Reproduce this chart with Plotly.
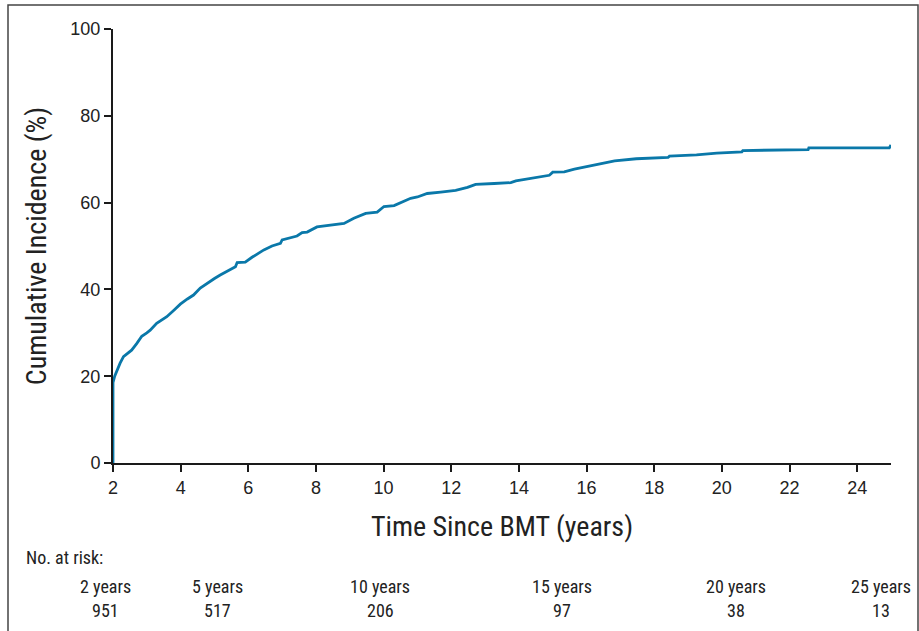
import plotly.graph_objects as go

# Cumulative incidence curve
time_years = [2.0, 2.0, 2.05, 2.1, 2.21, 2.31, 2.45, 2.55, 2.7, 2.85, 3.0, 3.1, 3.29, 3.45, 3.59,
              3.8, 3.99, 4.2, 4.38, 4.58, 4.78, 5.0, 5.17, 5.3, 5.47, 5.62, 5.67, 5.91, 6.11, 6.3,
              6.46, 6.70, 6.95, 7.0, 7.2, 7.44, 7.59, 7.74, 8.03, 8.4, 8.83, 9.12, 9.47, 9.81,
              10.01, 10.31, 10.50, 10.80, 11.0, 11.29, 11.69, 12.13, 12.48, 12.72, 13.27, 13.76,
              13.91, 14.26, 14.75, 14.9, 15.0, 15.34, 15.64, 16.03, 16.43, 16.83, 17.47, 18.41,
              18.45, 19.25, 19.85, 20.10, 20.59, 20.62, 21.95, 22.55, 22.57, 24.95, 25.0]
incidence_pct = [0, 18.5, 20.0, 21.0, 23.0, 24.5, 25.3, 26.0, 27.5, 29.2, 30.0, 30.6, 32.2, 33.0, 33.7,
                 35.2, 36.6, 37.8, 38.7, 40.3, 41.4, 42.5, 43.3, 43.9, 44.6, 45.2, 46.2, 46.3, 47.4, 48.3,
                 49.1, 50.0, 50.6, 51.4, 51.8, 52.3, 53.1, 53.2, 54.4, 54.8, 55.2, 56.4, 57.5, 57.8,
                 59.1, 59.3, 60.0, 61.0, 61.3, 62.1, 62.4, 62.8, 63.5, 64.2, 64.4, 64.6,
                 65.0, 65.4, 66.1, 66.3, 67.0, 67.1, 67.7, 68.3, 69.0, 69.6, 70.1, 70.4,
                 70.7, 71.0, 71.4, 71.5, 71.7, 72.0, 72.1, 72.2, 72.6, 72.6, 73.3]

x_ticks = [2, 4, 6, 8, 10, 12, 14, 16, 18, 20, 22, 24]
y_ticks = [0, 20, 40, 60, 80, 100]

# Number at risk table
risk_labels = ["2 years", "5 years", "10 years", "15 years", "20 years", "25 years"]
risk_counts = [951, 517, 206, 97, 38, 13]
risk_label_px = [105, 217, 380, 562, 736, 881]  # horizontal centres in the picture (layout)

W, H = 919, 631
L, R, T, B = 113, 891, 29, 463
pw, ph = R - L, B - T


def px_x(p):
    return (p - L) / pw


def px_y(p):
    return (B - p) / ph


narrow = "'Liberation Sans Narrow', 'Arial Narrow', 'Roboto Condensed', 'Liberation Sans', sans-serif"
regular = "'Liberation Sans', Arial, Helvetica, sans-serif"

fig = go.Figure()
fig.add_trace(go.Scatter(
    x=time_years, y=incidence_pct, mode="lines",
    line=dict(color="#0a78a9", width=2.8),
    hoverinfo="x+y", showlegend=False,
))

fig.update_layout(
    width=W, height=H,
    margin=dict(l=L, r=W - R, t=T, b=H - B),
    paper_bgcolor="white", plot_bgcolor="white",
    xaxis=dict(
        range=[2, 25], tickvals=x_ticks, ticks="outside", ticklen=7, tickwidth=1.5,
        tickcolor="#1a1a1a", showline=True, linecolor="#1a1a1a", linewidth=2,
        showgrid=False, zeroline=False, layer="below traces",
        tickfont=dict(family=regular, size=18, color="#222"),
        title=dict(text="Time Since BMT (years)", font=dict(family=narrow, size=28, color="#222"),
                   standoff=20),
    ),
    yaxis=dict(
        range=[0, 100], tickvals=y_ticks, ticks="outside", ticklen=7, tickwidth=1.5,
        tickcolor="#1a1a1a", showline=True, linecolor="#1a1a1a", linewidth=2,
        showgrid=False, zeroline=False, layer="below traces",
        tickfont=dict(family=regular, size=18, color="#222"),
        title=dict(text="Cumulative Incidence (%)", font=dict(family=narrow, size=28, color="#222"),
                   standoff=16),
    ),
)

# outer frame
fig.add_shape(type="rect", xref="paper", yref="paper",
              x0=px_x(8), x1=px_x(918), y0=px_y(640), y1=px_y(5),
              line=dict(color="#444", width=1.5), fillcolor="rgba(0,0,0,0)")

fig.add_annotation(text="No. at risk:", xref="paper", yref="paper",
                   x=px_x(24), y=px_y(557), xanchor="left", yanchor="middle",
                   showarrow=False, font=dict(family=narrow, size=18, color="#222"))

for lab, cnt, cx in zip(risk_labels, risk_counts, risk_label_px):
    fig.add_annotation(text=lab, xref="paper", yref="paper", x=px_x(cx), y=px_y(586),
                       xanchor="center", yanchor="middle", showarrow=False,
                       font=dict(family=narrow, size=18, color="#222"))
    fig.add_annotation(text=str(cnt), xref="paper", yref="paper", x=px_x(cx), y=px_y(610),
                       xanchor="center", yanchor="middle", showarrow=False,
                       font=dict(family=narrow, size=18, color="#222"))

fig.write_html("out.html", config={"displayModeBar": False})

# remove the browser's default page margin so the figure sits at (0, 0)
with open("out.html", "r", encoding="utf-8") as f:
    html = f.read()
html = html.replace("<head>", "<head><style>html,body{margin:0;padding:0;overflow:hidden;}</style>", 1)
with open("out.html", "w", encoding="utf-8") as f:
    f.write(html)
